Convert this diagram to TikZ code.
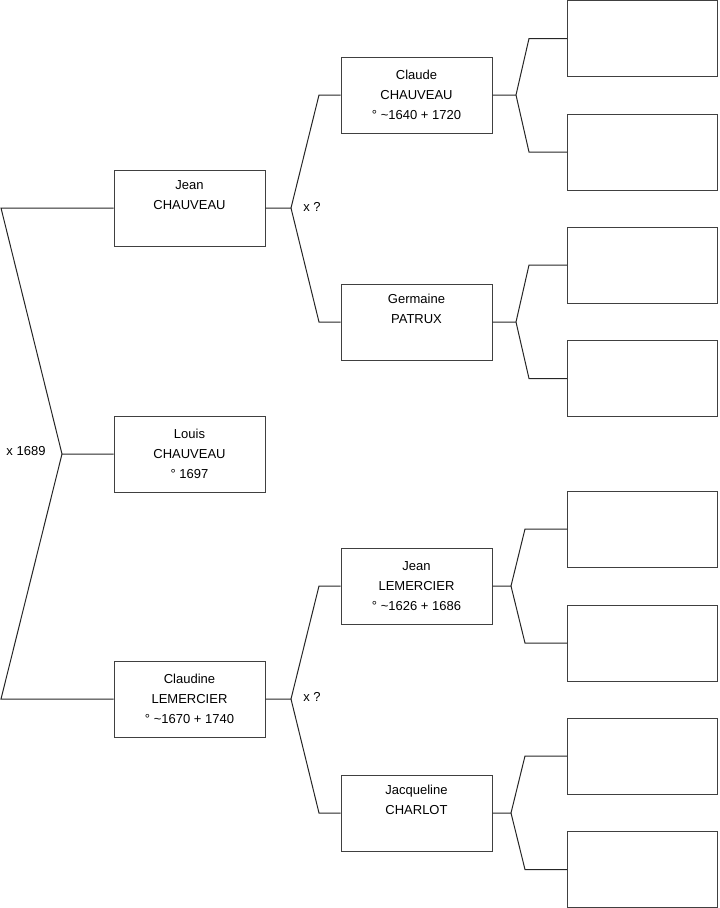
\documentclass[tikz,border=0pt]{standalone}
\usepackage{fontspec}
\setmainfont{Liberation Sans}

\tikzset{
  person/.style={draw=black!75, line width=0.75pt, minimum width=113.25pt, minimum height=57pt,
    inner sep=0pt, align=center, font=\fontsize{9.75}{15}\selectfont},
  emptybox/.style={person, minimum width=112.5pt},
  link/.style={draw=black!85, line width=0.75pt},
  mariage/.style={font=\fontsize{9.75}{11}\selectfont, inner sep=0pt}
}

\begin{document}
\begin{tikzpicture}[x=0.75pt, y=-0.75pt]
			\useasboundingbox (0,0) rectangle (719,908);
			% generation 1 and 2
			\node[person] (jean) at (189.5,208) {Jean\\CHAUVEAU\\\strut};
			\node[person] (louis) at (189.5,454) {Louis\\CHAUVEAU\\° 1697};
			\node[person] (claudine) at (189.5,699) {Claudine\\LEMERCIER\\° \textasciitilde1670 + 1740};
			% grand-parents
			\node[person] (claude) at (416.5,95) {Claude\\CHAUVEAU\\° \textasciitilde1640 + 1720};
			\node[person] (germaine) at (416.5,322) {Germaine\\PATRUX\\\strut};
			\node[person] (jeanl) at (416.5,586) {Jean\\LEMERCIER\\° \textasciitilde1626 + 1686};
			\node[person] (jacqueline) at (416.5,813) {Jacqueline\\CHARLOT\\\strut};
			% unknown great-grand-parents
			\node[emptybox] (e1) at (642.5,38.5) {};
			\node[emptybox] (e2) at (642.5,152) {};
			\node[emptybox] (e3) at (642.5,265) {};
			\node[emptybox] (e4) at (642.5,378.5) {};
			\node[emptybox] (e5) at (642.5,529) {};
			\node[emptybox] (e6) at (642.5,643) {};
			\node[emptybox] (e7) at (642.5,756) {};
			\node[emptybox] (e8) at (642.5,869.5) {};

			% fork of Louis
			\coordinate (fl) at (62,454);
			\coordinate (fla) at (1,208);
			\coordinate (flb) at (1,699);
			\draw[link] (louis.west) -- (fl) -- (fla) -- (jean.west);
			\draw[link] (fl) -- (flb) -- (claudine.west);
			\node[mariage] (m0) at (26,451) {x 1689};

			% fork of Jean
			\coordinate (fj) at (291,208);
			\coordinate (fja) at (319,95);
			\coordinate (fjb) at (319,322);
			\draw[link] (jean.east) -- (fj) -- (fja) -- (claude.west);
			\draw[link] (fj) -- (fjb) -- (germaine.west);
			\node[mariage] (m1) at (312,207) {x ?};

			% fork of Claudine
			\coordinate (fc) at (291,699);
			\coordinate (fca) at (319,586);
			\coordinate (fcb) at (319,813);
			\draw[link] (claudine.east) -- (fc) -- (fca) -- (jeanl.west);
			\draw[link] (fc) -- (fcb) -- (jacqueline.west);
			\node[mariage] (m2) at (312,697) {x ?};

			% last generation
			\coordinate (g1) at (516,95);
			\draw[link] (claude.east) -- (g1) -- (529,38.5) -- (e1.west);
			\draw[link] (g1) -- (529,152) -- (e2.west);
			\coordinate (g2) at (516,322);
			\draw[link] (germaine.east) -- (g2) -- (529,265) -- (e3.west);
			\draw[link] (g2) -- (529,378.5) -- (e4.west);
			\coordinate (g3) at (511,586);
			\draw[link] (jeanl.east) -- (g3) -- (525,529) -- (e5.west);
			\draw[link] (g3) -- (525,643) -- (e6.west);
			\coordinate (g4) at (511,813);
			\draw[link] (jacqueline.east) -- (g4) -- (525,756) -- (e7.west);
			\draw[link] (g4) -- (525,869.5) -- (e8.west);
		\end{tikzpicture}
\end{document}
